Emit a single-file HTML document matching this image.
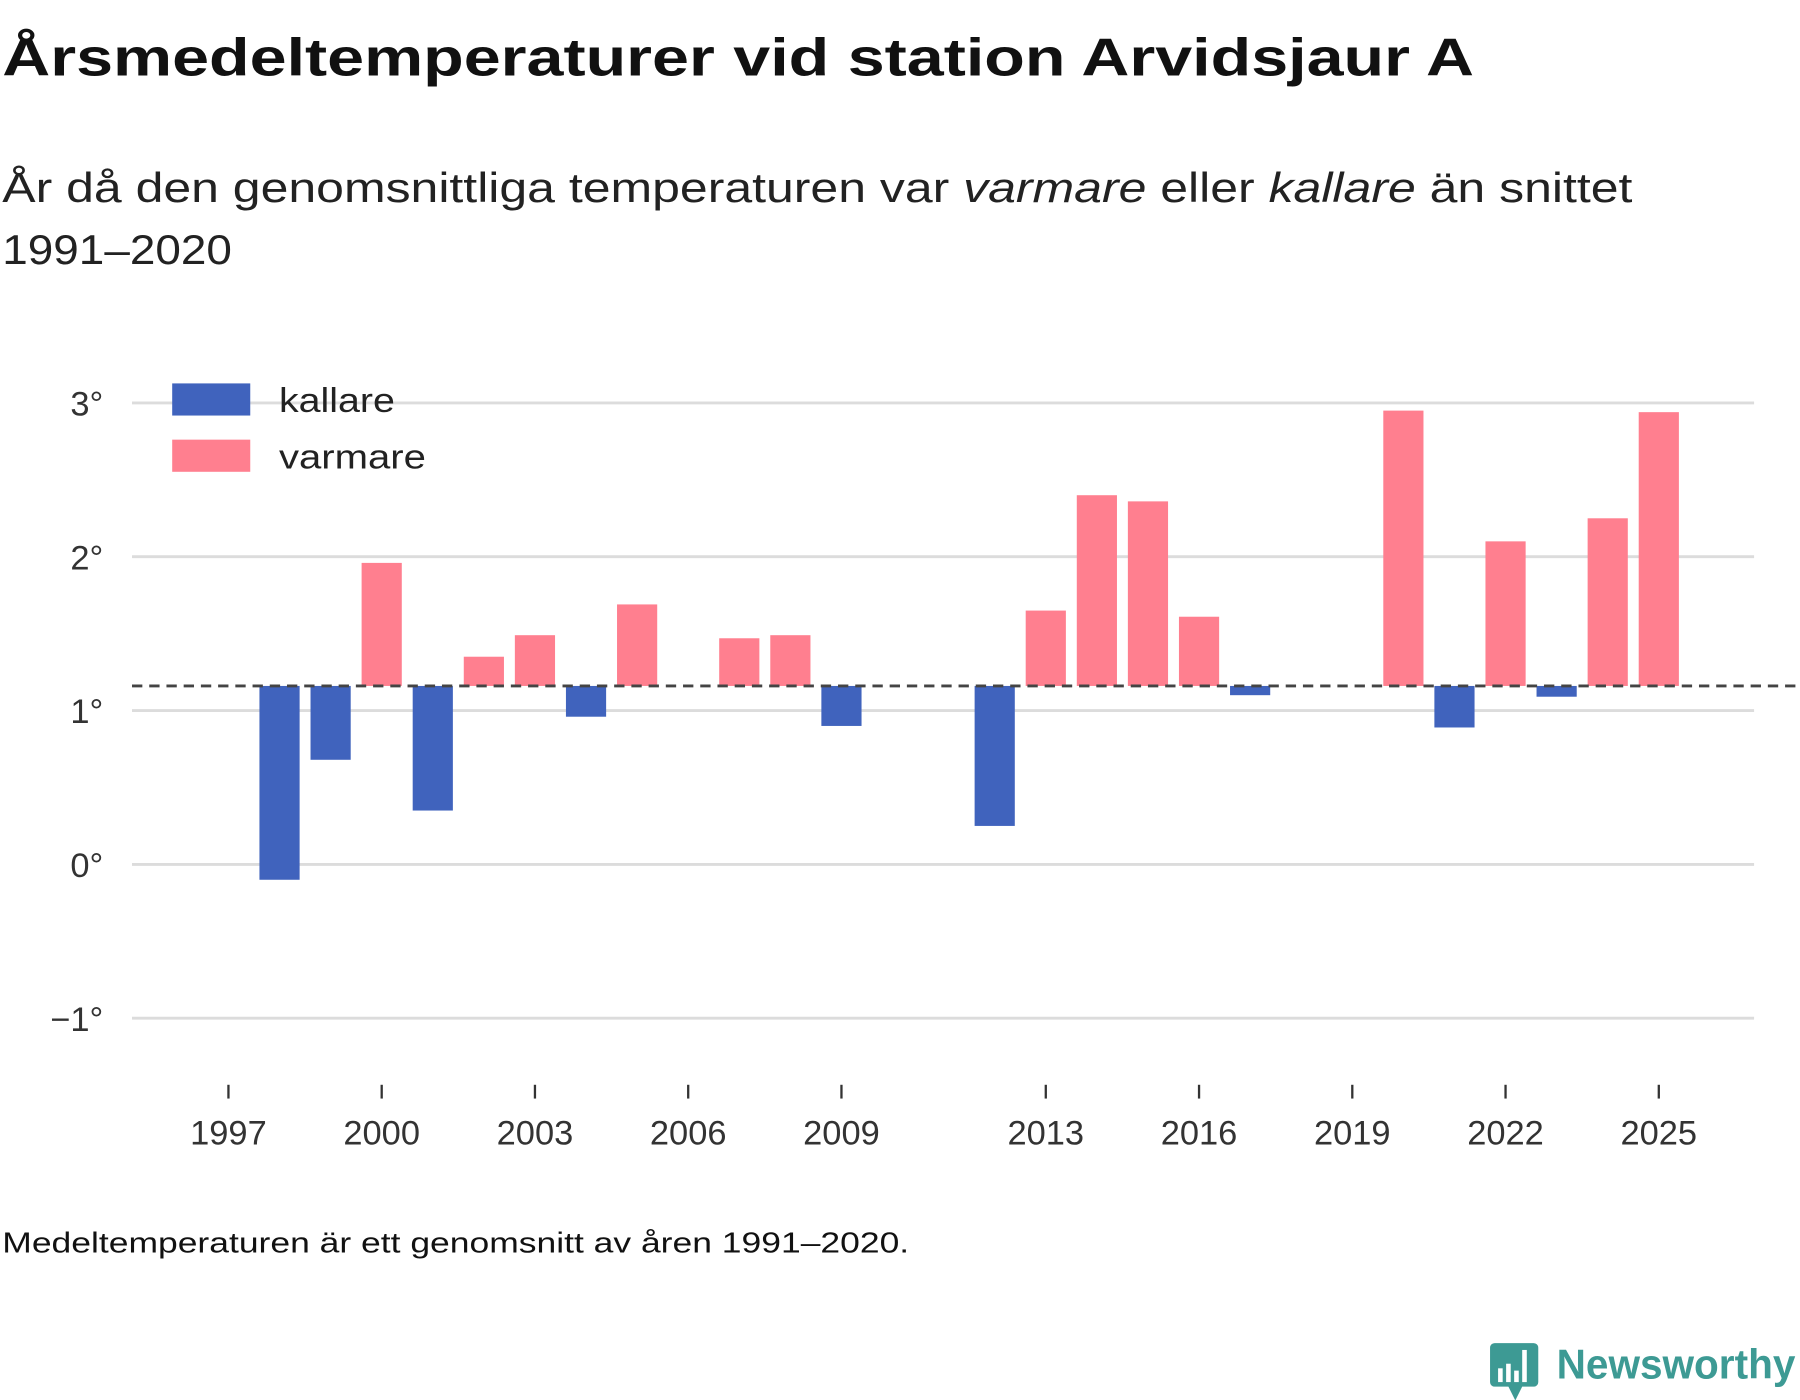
<!DOCTYPE html>
<html><head><meta charset="utf-8"><style>
html,body{margin:0;padding:0;background:#fff;}
svg{display:block;font-family:"Liberation Sans",sans-serif;}
</style></head><body>
<svg id="chart" width="1800" height="1400" viewBox="0 0 1568 1219.6" preserveAspectRatio="none" xmlns="http://www.w3.org/2000/svg">
<text x="2" y="66" font-size="46" font-weight="bold" fill="#111" textLength="1282" lengthAdjust="spacingAndGlyphs">Årsmedeltemperaturer vid station Arvidsjaur A</text>
<text x="2" y="176" font-size="36" fill="#222" textLength="1420" lengthAdjust="spacingAndGlyphs">År då den genomsnittliga temperaturen var <tspan font-style="italic">varmare</tspan> eller <tspan font-style="italic">kallare</tspan> än snittet</text>
<text x="2" y="230" font-size="36" fill="#222" textLength="200" lengthAdjust="spacingAndGlyphs">1991–2020</text>
<g id="grid"></g>
<g id="bars"></g>
<g id="xaxis"></g>
<line id="mean" x1="115" x2="1566" stroke="#444" stroke-width="2.5" stroke-dasharray="9,6"/>
<g>
<rect x="150" y="334" width="68" height="28" fill="#4063bd"/>
<text x="243" y="359" font-size="30" fill="#222" textLength="101" lengthAdjust="spacingAndGlyphs">kallare</text>
<rect x="150" y="383" width="68" height="28" fill="#ff7f8f"/>
<text x="243" y="408" font-size="30" fill="#222" textLength="128" lengthAdjust="spacingAndGlyphs">varmare</text>
</g>
<text x="2" y="1091" font-size="25" fill="#111" textLength="790" lengthAdjust="spacingAndGlyphs">Medeltemperaturen är ett genomsnitt av åren 1991–2020.</text>
<g>
<path d="M1302 1170 h34 a4 4 0 0 1 4 4 v30 a4 4 0 0 1 -4 4 h-10 l-6 12 l-6 -12 h-12 a4 4 0 0 1 -4 -4 v-30 a4 4 0 0 1 4 -4z" fill="#3d9a94"/>
<rect x="1305" y="1192" width="4" height="12" fill="#fff"/><rect x="1312" y="1188" width="4" height="16" fill="#fff"/><rect x="1319" y="1194" width="4" height="10" fill="#fff"/><rect x="1326" y="1176" width="4" height="28" fill="#fff"/>
<text x="1356" y="1201" font-size="36" font-weight="bold" fill="#3d9a94" textLength="208" lengthAdjust="spacingAndGlyphs">Newsworthy</text>
</g>
</svg>
<script>
const years=[1998,1999,2000,2001,2002,2003,2004,2005,2007,2008,2009,2012,2013,2014,2015,2016,2017,2020,2021,2022,2023,2024,2025];
const temps=[-0.1,0.68,1.96,0.35,1.35,1.49,0.96,1.69,1.47,1.49,0.90,0.25,1.65,2.40,2.36,1.61,1.10,2.95,0.89,2.10,1.09,2.25,2.94];
const meanTemp=1.16;
const yTicks=[3,2,1,0,-1];
const xTicks=[1997,2000,2003,2006,2009,2013,2016,2019,2022,2025];
const NS="http://www.w3.org/2000/svg";
const y=v=>753-v*134;
const x=yr=>199+(yr-1997)*44.5;
const bw=35;
function mk(t,a,p){const e=document.createElementNS(NS,t);for(const k in a)e.setAttribute(k,a[k]);p.appendChild(e);return e;}
const grid=document.getElementById('grid'),bars=document.getElementById('bars'),xa=document.getElementById('xaxis');
yTicks.forEach(v=>{
 const l=mk('line',{x1:115,x2:1528,y1:y(v),y2:y(v),stroke:'#dcdcdc','stroke-width':2.5},grid);
 
 
 const t=mk('text',{x:90,y:y(v)+11,'font-size':30,fill:'#333','text-anchor':'end'},grid);
 t.textContent=(v<0?'\u2212'+Math.abs(v):v)+'°';
 
 
});
xTicks.forEach(yr=>{
 const l=mk('line',{x1:x(yr),x2:x(yr),y1:945,y2:957,stroke:'#333','stroke-width':2},xa);
 
 
 const t=mk('text',{x:x(yr),y:997,'font-size':30,fill:'#333','text-anchor':'middle'},xa);
 t.textContent=yr;
 
 
});
years.forEach((yr,i)=>{
 const v=temps[i];
 const top=Math.min(y(v),y(meanTemp)),h=Math.abs(y(v)-y(meanTemp));
 const r=mk('rect',{x:x(yr)-bw/2,y:top,width:bw,height:h,fill:v<meanTemp?'#4063bd':'#ff7f8f'},bars);
 
 
});
const m=document.getElementById('mean');m.setAttribute('y1',y(meanTemp));m.setAttribute('y2',y(meanTemp));
</script>
</body></html>
